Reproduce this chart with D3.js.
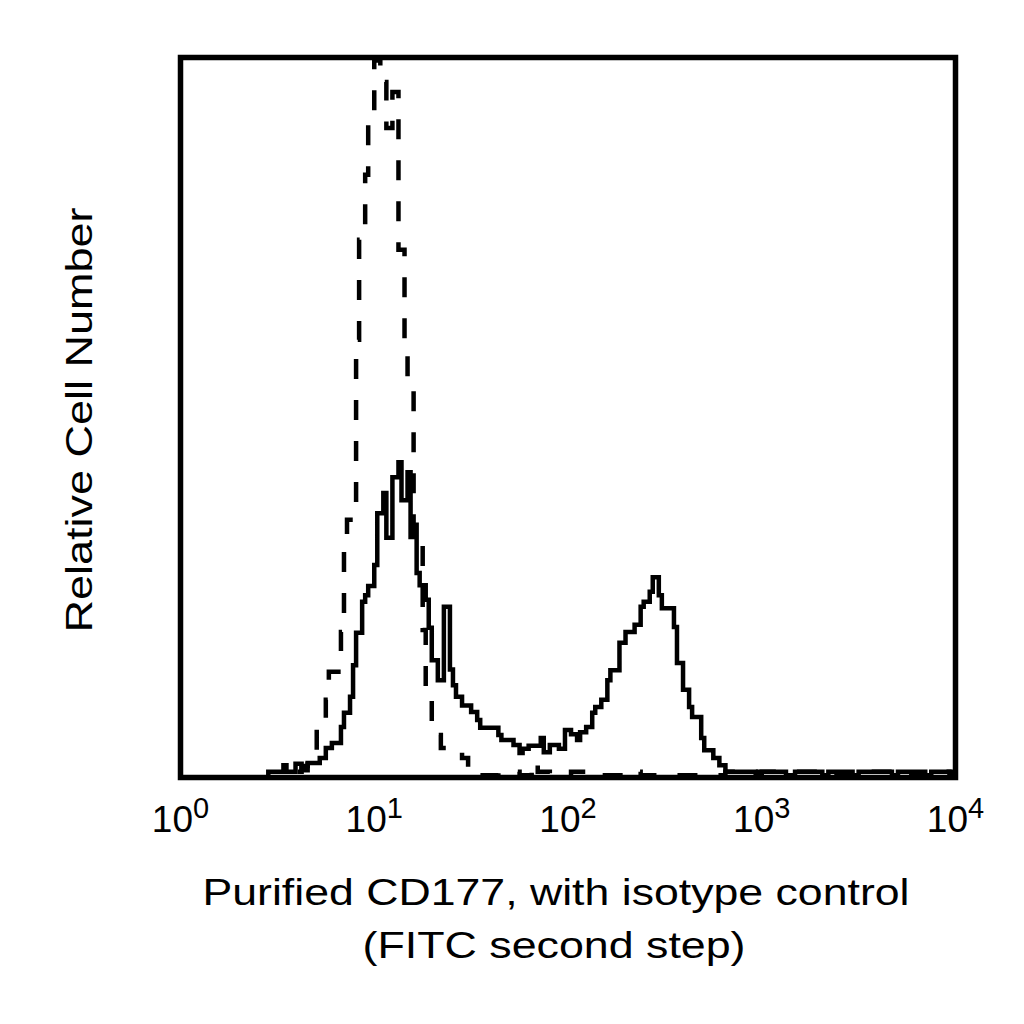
<!DOCTYPE html>
<html>
<head>
<meta charset="utf-8">
<script src="https://cdn.jsdelivr.net/npm/d3@7"></script>
<style>
  body { margin: 0; background: #fff; }
  svg { display: block; font-family: Arial, "Liberation Sans", sans-serif; }
</style>
</head>
<body>
<svg width="1024" height="1024"></svg>
<script>
// Données : histogrammes sur 256 canaux (4 décades), début de chaque palier + hauteur relative
let decades = [0, 1, 2, 3, 4];

let cd177Start = [0, 29, 34, 35, 38, 40, 42, 46, 48, 50, 53, 54, 56, 57, 58, 60, 61, 62, 64, 65,
    67, 68, 70, 72, 73, 75, 76, 77, 78, 79, 81, 82, 83, 85, 87, 89, 90, 91, 93, 96,
    98, 99, 105, 106, 110, 112, 113, 115, 119, 120, 122, 125, 127, 129, 131, 132, 134, 136, 137, 139,
    141, 142, 145, 147, 150, 152, 153, 155, 156, 158, 159, 163, 164, 166, 168, 169, 172, 173, 176, 178,
    180, 190, 192, 200, 203, 212, 214, 222, 224, 235, 237, 246, 248, 254];
let cd177Count = [0, 0.8, 1.7, 0.8, 1.9, 1.0, 2.0, 2.7, 4.1, 4.8, 7.0, 9.0, 11.2, 15.6, 20.1, 24.4, 25.3, 26.6, 29.5, 36.7,
    39.5, 33.3, 41.7, 43.8, 38.5, 42.4, 33.4, 35.1, 28.4, 26.7, 24.7, 20.8, 16.3, 13.5, 23.7, 15.0, 12.8, 11.2, 10.0, 9.1,
    8.0, 6.9, 5.9, 5.2, 4.5, 3.4, 4.0, 4.4, 5.5, 3.5, 4.5, 4.0, 6.6, 6.0, 5.2, 6.3, 7.0, 9.0, 9.8, 10.8,
    13.5, 14.9, 18.7, 20.2, 21.2, 23.7, 24.4, 25.8, 27.8, 25.3, 23.5, 20.9, 15.9, 12.2, 9.8, 8.4, 5.5, 3.8, 2.7, 1.7,
    0.8, 0.3, 0.8, 0.3, 0.8, 0.3, 0.8, 0.3, 0.8, 0.3, 0.8, 0.3, 0.8, 0.3];

let isoStart = [0, 36, 40, 42, 45, 48, 49, 53, 54, 55, 58, 59, 61, 62, 64, 66, 68, 70, 72, 74,
    75, 77, 80, 81, 83, 84, 86, 93, 95, 97, 105, 112, 116, 117, 118, 122, 129, 136, 150, 152,
    180, 215, 225, 240, 248];
let isoCount = [0, 0.8, 1.6, 2.8, 6.9, 10.8, 14.7, 20.2, 33.7, 35.8, 60.8, 74.7, 83.7, 90.6, 99.6, 96.6, 90.2, 95.2, 73.3, 59.7,
    55.2, 34.4, 20.5, 12.4, 7.3, 5.9, 4.1, 2.7, 1.3, 0.3, 0.8, 0.3, 0.8, 2.2, 0.8, 0.3, 0.8, 0.3, 0.8, 0.3,
    0.8, 0.3, 0.8, 0.3, 0.8];

let nbCanaux = 256;

// Dimensions
let svg = d3.select("svg");
let gauche = 180.5, droite = 955.5, haut = 57.5, bas = 777.5;

let x = d3.scaleLog().domain([1, 1e4]).range([gauche, droite]);
let y = d3.scaleLinear().domain([0, 100]).range([bas, haut]);

function canalVersValeur(c) {
    return Math.pow(10, c * 4 / nbCanaux);
}

function paliers(debuts, hauteurs) {
    let pts = debuts.map((c, i) => [canalVersValeur(c), hauteurs[i]]);
    pts.push([canalVersValeur(nbCanaux), hauteurs[hauteurs.length - 1]]);
    return pts;
}

let ligne = d3.line()
    .x(d => x(d[0]))
    .y(d => y(d[1]))
    .curve(d3.curveStepAfter);

svg.append("clipPath")
    .attr("id", "zone")
    .append("rect")
    .attr("x", gauche)
    .attr("y", haut)
    .attr("width", droite - gauche)
    .attr("height", bas - haut);

let courbes = svg.append("g").attr("clip-path", "url(#zone)");

// Contrôle isotypique (pointillés)
courbes.append("path")
    .attr("d", ligne(paliers(isoStart, isoCount)))
    .attr("fill", "none")
    .attr("stroke", "black")
    .attr("stroke-width", 4.5)
    .attr("stroke-dasharray", "20,21");

// CD177 (trait plein)
courbes.append("path")
    .attr("d", ligne(paliers(cd177Start, cd177Count)))
    .attr("fill", "none")
    .attr("stroke", "black")
    .attr("stroke-width", 4.5);

// Cadre
svg.append("rect")
    .attr("x", gauche)
    .attr("y", haut)
    .attr("width", droite - gauche)
    .attr("height", bas - haut)
    .attr("fill", "none")
    .attr("stroke", "black")
    .attr("stroke-width", 5.5);

// Étiquettes des décades
let etiquettes = svg.append("g")
    .selectAll("text")
    .data(decades)
    .enter()
    .append("text")
    .attr("x", d => x(Math.pow(10, d)))
    .attr("y", 832)
    .attr("text-anchor", "middle")
    .style("font-size", "37px");

etiquettes.append("tspan").text("10");
etiquettes.append("tspan")
    .attr("dy", -14)
    .style("font-size", "29px")
    .text(d => d);

// Titres des axes (texte étiré comme dans l'original)
svg.append("text")
    .attr("transform", "translate(92,420) rotate(-90)")
    .attr("text-anchor", "middle")
    .attr("textLength", 425)
    .attr("lengthAdjust", "spacingAndGlyphs")
    .style("font-size", "37px")
    .text("Relative Cell Number");

svg.append("text")
    .attr("x", 556)
    .attr("y", 905)
    .attr("text-anchor", "middle")
    .attr("textLength", 707)
    .attr("lengthAdjust", "spacingAndGlyphs")
    .style("font-size", "37px")
    .text("Purified CD177, with isotype control");

svg.append("text")
    .attr("x", 554)
    .attr("y", 958)
    .attr("text-anchor", "middle")
    .attr("textLength", 383)
    .attr("lengthAdjust", "spacingAndGlyphs")
    .style("font-size", "37px")
    .text("(FITC second step)");
</script>
</body>
</html>
